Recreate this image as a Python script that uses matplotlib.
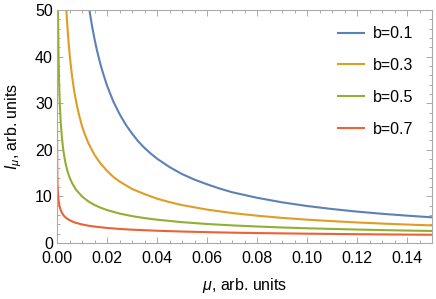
import matplotlib
matplotlib.use("Agg")
import matplotlib.pyplot as plt
from matplotlib.ticker import MultipleLocator, FormatStrFormatter

plt.rcParams['font.family'] = ['Liberation Sans', 'DejaVu Sans']
plt.rcParams['mathtext.fontset'] = 'custom'
plt.rcParams['mathtext.rm'] = 'Liberation Sans'
plt.rcParams['mathtext.it'] = 'Liberation Sans:italic'

# valores (mu, I_mu)
mu_b01 = [0.0125, 0.0135, 0.014, 0.015, 0.016, 0.0175, 0.0185, 0.02, 0.0225, 0.025,
          0.0275, 0.03, 0.0325, 0.035, 0.0375, 0.04, 0.045, 0.05, 0.055, 0.06, 0.065,
          0.07, 0.075, 0.08, 0.09, 0.10, 0.11, 0.12, 0.13, 0.14, 0.15]
I_b01 = [51.6, 48.2, 46.6, 43.8, 41.3, 38.1, 36.3, 33.8, 30.4, 27.7,
         25.4, 23.5, 21.8, 20.4, 19.2, 18.1, 16.3, 14.8, 13.6, 12.6, 11.7,
         10.9, 10.3, 9.71, 8.73, 7.94, 7.29, 6.74, 6.27, 5.87, 5.51]

mu_b03 = [0.0035, 0.004, 0.0045, 0.005, 0.0055, 0.006, 0.0065, 0.007, 0.008, 0.009,
          0.01, 0.011, 0.0125, 0.015, 0.0175, 0.02, 0.0225, 0.025, 0.0275, 0.03,
          0.035, 0.04, 0.045, 0.05, 0.06, 0.07, 0.08, 0.09, 0.10, 0.11, 0.12,
          0.13, 0.14, 0.15]
I_b03 = [52.4, 47.7, 43.9, 40.8, 38.2, 35.9, 34.0, 32.2, 29.4, 27.1,
         25.1, 23.5, 21.5, 18.9, 17.0, 15.5, 14.2, 13.2, 12.4, 11.6,
         10.5, 9.52, 8.77, 8.14, 7.17, 6.43, 5.86, 5.39, 5.01, 4.69, 4.41,
         4.17, 3.96, 3.77]

mu_b05 = [0.0003, 0.00035, 0.0004, 0.0005, 0.0006, 0.0007, 0.0008, 0.001, 0.0012,
          0.0015, 0.002, 0.0025, 0.003, 0.0035, 0.004, 0.005, 0.006, 0.0075, 0.01,
          0.0125, 0.015, 0.0175, 0.02, 0.025, 0.03, 0.035, 0.04, 0.05, 0.06,
          0.07, 0.08, 0.09, 0.10, 0.11, 0.12, 0.13, 0.14, 0.15]
I_b05 = [57.7, 53.5, 50.0, 44.7, 40.8, 37.8, 35.4, 31.6, 28.9,
         25.8, 22.4, 20.0, 18.3, 16.9, 15.8, 14.1, 12.9, 11.5, 10.0,
         8.94, 8.16, 7.56, 7.07, 6.32, 5.77, 5.35, 5.0, 4.47, 4.08,
         3.78, 3.54, 3.33, 3.16, 3.02, 2.89, 2.77, 2.67, 2.58]

mu_b07 = [0.000023, 0.00003, 0.00004, 0.00005, 0.00007, 0.0001, 0.00015, 0.0002,
          0.0003, 0.0004, 0.0005, 0.00075, 0.001, 0.0015, 0.002, 0.0025, 0.003,
          0.004, 0.005, 0.0065, 0.0075, 0.01, 0.0125, 0.015, 0.02, 0.025, 0.03,
          0.04, 0.05, 0.06, 0.07, 0.08, 0.10, 0.12, 0.14, 0.15]
I_b07 = [24.6, 22.7, 20.9, 19.5, 17.6, 15.8, 14.0, 12.9,
         11.4, 10.5, 9.78, 8.66, 7.94, 7.03, 6.45, 6.03, 5.71,
         5.24, 4.90, 4.53, 4.34, 3.98, 3.72, 3.53, 3.23, 3.02, 2.86,
         2.63, 2.46, 2.33, 2.22, 2.13, 2.00, 1.89, 1.80, 1.77]

fig = plt.figure(figsize=(4.36, 2.99), dpi=100)
ax = fig.add_axes([57/436, 1-243/299, 375/436, 233/299])

ax.plot(mu_b01, I_b01, color='#5E81B5', lw=1.5, label='b=0.1')
ax.plot(mu_b03, I_b03, color='#E19C24', lw=1.5, label='b=0.3')
ax.plot(mu_b05, I_b05, color='#8FB032', lw=1.5, label='b=0.5')
ax.plot(mu_b07, I_b07, color='#EB6235', lw=1.5, label='b=0.7')

ax.set_xlim(0, 0.15)
ax.set_ylim(0, 50)
ax.xaxis.set_major_locator(MultipleLocator(0.02))
ax.xaxis.set_minor_locator(MultipleLocator(0.005))
ax.xaxis.set_major_formatter(FormatStrFormatter('%.2f'))
ax.yaxis.set_major_locator(MultipleLocator(10))
ax.yaxis.set_minor_locator(MultipleLocator(2))

for s in ax.spines.values():
    s.set_color('#aaaaaa')
    s.set_linewidth(0.8)
ax.tick_params(which='both', direction='in', top=True, right=True,
               color='#aaaaaa', labelsize=11.5, labelcolor='black', width=0.7)
ax.tick_params(which='major', length=4.5)
ax.tick_params(which='minor', length=2.5)
ax.tick_params(axis='x', which='major', pad=6)
ax.tick_params(axis='y', which='major', pad=3)

ax.set_xlabel(r'$\mu$, arb. units', fontsize=11.5, labelpad=7)
ax.set_ylabel(r'$I_\mu$, arb. units', fontsize=11.5, labelpad=8)

ax.legend(loc='upper right', frameon=False, fontsize=11.5, handlelength=1.6,
          labelspacing=1.05, handletextpad=0.6, borderaxespad=0.4,
          bbox_to_anchor=(0.985, 0.985))

fig.savefig('out.png', dpi=100)
